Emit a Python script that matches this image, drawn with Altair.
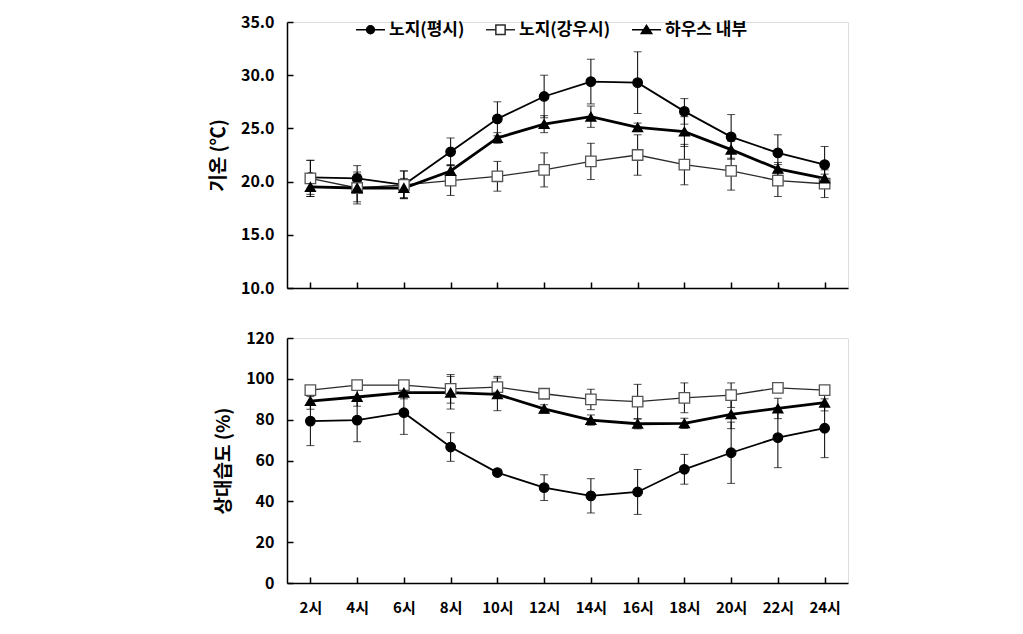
import altair as alt
import pandas as pd

times = ["2시", "4시", "6시", "8시", "10시", "12시", "14시", "16시", "18시", "20시", "22시", "24시"]
series_names = ["노지(평시)", "노지(강우시)", "하우스 내부"]

# Air temperature (°C)
temp_open = [20.4, 20.3, 19.7, 22.8, 25.9, 28.0, 29.4, 29.3, 26.6, 24.2, 22.7, 21.6]
temp_open_err = [1.6, 1.2, 1.3, 1.3, 1.6, 2.0, 2.1, 2.9, 1.2, 2.1, 1.7, 1.7]
temp_rain = [20.3, 19.4, 19.7, 20.1, 20.5, 21.1, 21.9, 22.5, 21.6, 21.0, 20.1, 19.8]
temp_rain_err = [1.7, 1.5, 1.3, 1.4, 1.4, 1.6, 1.7, 1.9, 1.9, 1.8, 1.5, 1.3]
temp_house = [19.5, 19.4, 19.4, 21.0, 24.1, 25.4, 26.1, 25.1, 24.7, 23.0, 21.2, 20.3]
temp_house_err = [0.9, 1.3, 0.9, 0.6, 0.5, 0.8, 1.0, 0.4, 1.4, 0.8, 0.6, 0.4]

# Relative humidity (%)
rh_open = [79.3, 79.8, 83.4, 66.6, 54.1, 46.7, 42.7, 44.6, 55.7, 63.8, 71.2, 75.8]
rh_open_err = [12.0, 10.6, 10.6, 7.0, 1.0, 6.3, 8.4, 11.0, 7.3, 15.0, 14.7, 14.4]
rh_rain = [94.5, 96.9, 96.9, 95.1, 95.9, 92.7, 89.9, 88.8, 90.7, 92.0, 95.6, 94.5]
rh_rain_err = [2.0, 1.0, 1.5, 7.0, 5.3, 1.0, 5.0, 8.5, 7.3, 6.0, 2.0, 2.0]
rh_house = [89.1, 91.1, 93.2, 93.2, 92.4, 85.3, 79.8, 78.0, 78.2, 82.6, 85.5, 88.3]
rh_house_err = [4.0, 4.5, 3.0, 8.0, 8.0, 2.0, 2.5, 2.5, 2.5, 7.0, 5.0, 4.0]

temp_ticks = [10, 15, 20, 25, 30, 35]
rh_ticks = [0, 20, 40, 60, 80, 100, 120]

FONT = "Noto Sans CJK KR"


def make_df(vals, errs):
    rows = []
    for name, v, e in zip(series_names, vals, errs):
        for t, vv, ee in zip(times, v, e):
            rows.append({"time": t, "series": name, "value": vv, "err": ee})
    return pd.DataFrame(rows)


df_temp = make_df([temp_open, temp_rain, temp_house], [temp_open_err, temp_rain_err, temp_house_err])
df_rh = make_df([rh_open, rh_rain, rh_house], [rh_open_err, rh_rain_err, rh_house_err])

styles = {
    "노지(평시)": dict(line_w=1.8, line_c="black", shape="circle", fill="black", stroke="black", size=90),
    "노지(강우시)": dict(line_w=1.3, line_c="#2a2a2a", shape="square", fill="white", stroke="#555555", size=110),
    "하우스 내부": dict(line_w=2.8, line_c="black", shape="triangle-up", fill="black", stroke="black", size=100),
}

legend_paths = [
    "M-1,0L-0.27,0M0.27,0L1,0M-0.27,0A0.27,0.27 0 1 1 0.27,0A0.27,0.27 0 1 1 -0.27,0Z",
    "M-1,0L-0.32,0M0.32,0L1,0M-0.32,-0.32L0.32,-0.32L0.32,0.32L-0.32,0.32Z",
    "M-1,0L1,0M0,-0.3L0.36,0.26L-0.36,0.26Z",
]


def legend_def():
    return alt.Legend(
        title=None, orient="none", direction="horizontal",
        legendX=68, legendY=-8,
        labelFontSize=17, labelFontWeight="bold", labelFont=FONT, labelColor="black",
        symbolSize=841, symbolStrokeWidth=1.5,
        columnPadding=18, labelOffset=3, labelLimit=0,
    )


def panel(df, domain, ticks, fmt, title, height, show_x_labels, with_legend):
    x_axis = alt.Axis(
        title=None, labels=show_x_labels, labelAngle=0, tickSize=0, labelPadding=17,
        labelFontSize=15, labelFontWeight="bold", labelFont=FONT, labelColor="black",
        domainColor="black", domainWidth=1.5,
        grid=True, gridColor="black", gridWidth=1.5, gridDash=[0, height - 6, 6, 3000], gridOpacity=1,
    )
    y_axis = alt.Axis(
        title=title, values=ticks, format=fmt, tickSize=0, labelPadding=13,
        labelFontSize=16, labelFontWeight="bold", labelFont=FONT, labelColor="black",
        titleFontSize=19, titleFontWeight="bold", titleFont=FONT, titleColor="black",
        titlePadding=12,
        domainColor="black", domainWidth=1.5,
        grid=True, gridColor="black", gridWidth=1.5, gridDash=[6, 3000], gridOpacity=1,
    )
    x = alt.X("time:N", sort=times, scale=alt.Scale(type="point", padding=0.5), axis=x_axis)
    yscale = alt.Scale(domain=domain, nice=False, zero=False)
    base = alt.Chart(df).encode(x=x)

    layers = []
    for name in series_names:
        st = styles[name]
        sub = base.transform_filter(alt.datum.series == name)
        layers.append(
            sub.mark_line(color=st["line_c"], strokeWidth=st["line_w"]).encode(
                y=alt.Y("value:Q", scale=yscale, axis=y_axis)
            )
        )
    for name in series_names:
        sub = base.transform_filter(alt.datum.series == name).transform_calculate(
            lo="datum.value - datum.err", hi="datum.value + datum.err"
        )
        layers.append(
            sub.mark_rule(color="black", strokeWidth=1).encode(
                y=alt.Y("lo:Q", scale=yscale, axis=y_axis), y2="hi:Q"
            )
        )
        layers.append(
            sub.mark_tick(color="black", thickness=1, size=8, orient="horizontal").encode(
                y=alt.Y("lo:Q", scale=yscale, axis=y_axis)
            )
        )
        layers.append(
            sub.mark_tick(color="black", thickness=1, size=8, orient="horizontal").encode(
                y=alt.Y("hi:Q", scale=yscale, axis=y_axis)
            )
        )
    for name in series_names:
        st = styles[name]
        sub = base.transform_filter(alt.datum.series == name)
        layers.append(
            sub.mark_point(
                shape=st["shape"], filled=True, fill=st["fill"], stroke=st["stroke"],
                strokeWidth=1.3, size=st["size"], opacity=1,
            ).encode(y=alt.Y("value:Q", scale=yscale, axis=y_axis))
        )
    if with_legend:
        leg = alt.Chart(df).transform_filter("false").mark_point(
            filled=True, strokeWidth=1.5, opacity=1
        ).encode(
            shape=alt.Shape(
                "series:N",
                scale=alt.Scale(domain=series_names, range=legend_paths),
                legend=legend_def(),
            ),
            fill=alt.Fill(
                "series:N",
                scale=alt.Scale(domain=series_names, range=["black", "white", "black"]),
                legend=legend_def(),
            ),
            stroke=alt.Stroke(
                "series:N",
                scale=alt.Scale(domain=series_names, range=["black", "#2a2a2a", "black"]),
                legend=legend_def(),
            ),
        )
        layers.append(leg)
    return alt.layer(*layers).properties(width=561, height=height)


top = panel(df_temp, [10, 35], temp_ticks, ".1f", "기온 (℃)", 266, False, True)
bottom = panel(df_rh, [0, 120], rh_ticks, "d", "상대습도 (%)", 245, True, False)

chart = alt.vconcat(top, bottom, spacing=32).properties(
    padding={"left": 200, "top": 5, "right": 5, "bottom": 5}
).configure_view(stroke=None).configure(background="white")

chart.save("out.html", embed_options={"renderer": "svg", "actions": False})
